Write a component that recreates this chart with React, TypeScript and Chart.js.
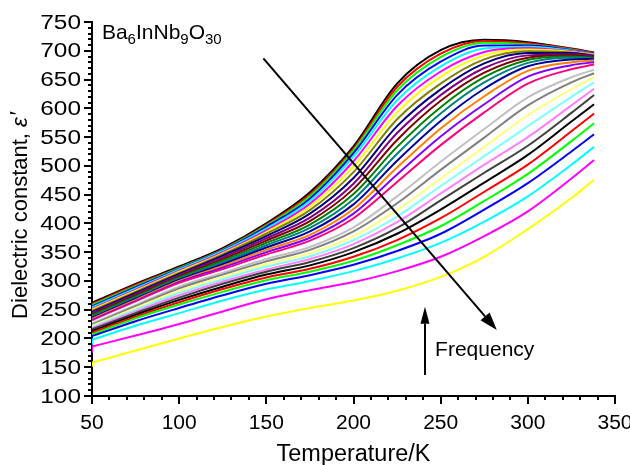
import React, { useEffect, useRef } from 'react';
import { Chart, registerables } from 'chart.js';
Chart.register(...registerables);

// Temperature (K) sample points. The first entry of every series is the value of the
// very first reading at 50 K (a short vertical start-up step), the rest follow the curve.
const temperatures = [50, 50, 75, 100, 125, 150, 175, 200, 225, 250, 275, 300, 325, 338];

// Dielectric constant for each measuring frequency (lowest frequency first)
const eps01 = [259, 262, 295, 325, 357, 400, 454, 534, 643, 701, 719, 715, 704, 697];
const eps02 = [257, 260, 293, 323, 355, 398, 450, 530, 637, 695, 717, 713, 703, 696];
const eps03 = [255, 258, 291, 322, 354, 396, 447, 527, 631, 689, 714, 711, 702, 695];
const eps04 = [253, 256, 289, 321, 353, 394, 443, 522, 623, 681, 709, 709, 701, 695];
const eps05 = [251, 254, 287, 320, 352, 391, 439, 516, 614, 673, 704, 707, 700, 694];
const eps06 = [249, 252, 285, 318, 350, 388, 434, 508, 604, 664, 698, 705, 699, 694];
const eps07 = [247, 250, 283, 316, 348, 385, 429, 499, 593, 655, 692, 702, 698, 693];
const eps08 = [245, 248, 281, 314, 346, 382, 423, 489, 581, 643, 685, 699, 697, 692];
const eps09 = [243, 246, 279, 312, 344, 378, 417, 479, 569, 633, 678, 696, 696, 691];
const eps10 = [241, 244, 277, 310, 341, 374, 410, 469, 557, 623, 670, 692, 694, 690];
const eps11 = [239, 242, 275, 308, 338, 370, 404, 460, 545, 613, 662, 688, 692, 689];
const eps12 = [237, 240, 273, 306, 335, 366, 398, 451, 533, 602, 654, 684, 690, 688];
const eps13 = [235, 238, 271, 304, 332, 362, 392, 442, 521, 591, 645, 679, 688, 687];
const eps14 = [233, 236, 269, 302, 329, 358, 386, 433, 509, 578, 634, 673, 685, 686];
const eps15 = [231, 234, 267, 300, 326, 354, 380, 425, 497, 565, 621, 665, 680, 683];
const eps16 = [229, 232, 265, 298, 323, 350, 375, 417, 485, 551, 607, 655, 675, 680];
const eps17 = [227, 230, 263, 296, 320, 346, 370, 409, 472, 536, 593, 643, 668, 676];
const eps18 = [225, 228, 261, 293, 317, 342, 364, 401, 459, 522, 579, 632, 662, 672];
const eps19 = [223, 226, 258, 290, 314, 338, 359, 393, 447, 507, 564, 619, 654, 667];
const eps20 = [221, 224, 256, 287, 311, 334, 354, 386, 435, 493, 549, 605, 645, 661];
const eps21 = [219, 222, 253, 283, 307, 329, 348, 378, 423, 478, 533, 588, 633, 654];
const eps22 = [217, 220, 250, 279, 303, 325, 343, 371, 412, 465, 517, 569, 620, 645];
const eps23 = [215, 218, 247, 275, 299, 320, 338, 364, 402, 452, 502, 550, 605, 634];
const eps24 = [212, 216, 244, 271, 295, 316, 333, 357, 392, 440, 488, 535, 592, 623];
const eps25 = [209, 213, 241, 267, 290, 311, 327, 350, 382, 424, 471, 519, 577, 607];
const eps26 = [206, 210, 238, 263, 286, 306, 321, 342, 371, 409, 455, 502, 560, 591];
const eps27 = [203, 207, 235, 259, 281, 301, 316, 335, 362, 395, 439, 486, 543, 574];
const eps28 = [198, 204, 230, 253, 275, 295, 310, 328, 352, 382, 424, 470, 525, 555];
const eps29 = [189, 198, 222, 244, 266, 285, 300, 317, 339, 366, 403, 447, 502, 533];
const eps30 = [175, 186, 205, 225, 247, 268, 284, 298, 317, 342, 378, 421, 478, 510];
const eps31 = [151, 158, 179, 200, 220, 238, 253, 266, 283, 307, 342, 390, 444, 476];

const allSeries = [
  eps01, eps02, eps03, eps04, eps05, eps06, eps07, eps08, eps09, eps10,
  eps11, eps12, eps13, eps14, eps15, eps16, eps17, eps18, eps19, eps20,
  eps21, eps22, eps23, eps24, eps25, eps26, eps27, eps28, eps29, eps30, eps31,
];

const curveColors = [
  '#000000', '#FF0000', '#00FF00', '#0000FF', '#00FFFF', '#FF00FF', '#FFFF00',
  '#808000', '#000080', '#800080', '#800000', '#008000', '#008080', '#0000A0',
  '#FF8000', '#8000FF', '#FF0080', '#FFFFFF', '#C0C0C0', '#808080', '#FFFF80',
  '#80FFFF', '#FF80FF', '#404040',
  '#000000', '#FF0000', '#00FF00', '#0000FF', '#00FFFF', '#FF00FF', '#FFFF00',
];

const xTickValues = [50, 100, 150, 200, 250, 300, 350];
const yTickValues = [100, 150, 200, 250, 300, 350, 400, 450, 500, 550, 600, 650, 700, 750];

const FONT = 'Arial, "Liberation Sans", Helvetica, sans-serif';

function stretchText(ctx: CanvasRenderingContext2D, text: string, x: number, y: number, sx: number, align: CanvasTextAlign) {
  ctx.save();
  ctx.translate(x, y);
  ctx.scale(sx, 1);
  ctx.textAlign = align;
  ctx.fillText(text, 0, 0);
  ctx.restore();
}

function arrow(ctx: CanvasRenderingContext2D, x1: number, y1: number, x2: number, y2: number, headLen: number, headW: number) {
  const ang = Math.atan2(y2 - y1, x2 - x1);
  const bx = x2 - headLen * Math.cos(ang);
  const by = y2 - headLen * Math.sin(ang);
  ctx.beginPath();
  ctx.moveTo(x1, y1);
  ctx.lineTo(bx, by);
  ctx.stroke();
  const px = -Math.sin(ang) * headW / 2;
  const py = Math.cos(ang) * headW / 2;
  ctx.beginPath();
  ctx.moveTo(x2, y2);
  ctx.lineTo(bx + px, by + py);
  ctx.lineTo(bx - px, by - py);
  ctx.closePath();
  ctx.fill();
}

const decorPlugin = {
  id: 'decor',
  afterDraw(chart: any) {
    const { ctx, chartArea } = chart;
    const xs = chart.scales.x;
    const ys = chart.scales.y;
    ctx.save();
    ctx.fillStyle = '#000';
    ctx.strokeStyle = '#000';
    ctx.lineWidth = 2;
    ctx.lineCap = 'butt';
    // y ticks (major every 50, minor every 10)
    for (let v = 100; v <= 750; v += 10) {
      const py = Math.round(ys.getPixelForValue(v));
      const len = v % 50 === 0 ? 8 : 4;
      ctx.beginPath();
      ctx.moveTo(chartArea.left - len, py);
      ctx.lineTo(chartArea.left, py);
      ctx.stroke();
    }
    // x ticks
    for (let v = 50; v <= 350; v += 10) {
      const px = Math.round(xs.getPixelForValue(v));
      const len = v % 50 === 0 ? 8 : 4;
      ctx.beginPath();
      ctx.moveTo(px, chartArea.bottom);
      ctx.lineTo(px, chartArea.bottom + len);
      ctx.stroke();
    }
    // tick labels
    ctx.font = `20px ${FONT}`;
    ctx.textBaseline = 'middle';
    yTickValues.forEach((v) => {
      stretchText(ctx, String(v), chartArea.left - 11, ys.getPixelForValue(v) + 1, 1.22, 'right');
    });
    xTickValues.forEach((v) => {
      stretchText(ctx, String(v), xs.getPixelForValue(v), chartArea.bottom + 27, 1.05, 'center');
    });
    // axis titles
    ctx.font = `23px ${FONT}`;
    stretchText(ctx, 'Temperature/K', (chartArea.left + chartArea.right) / 2, 455, 1.02, 'center');

    ctx.save();
    ctx.translate(21, 215);
    ctx.rotate(-Math.PI / 2);
    const partA = 'Dielectric constant, ';
    const partB = 'ε';
    const partC = '′';
    ctx.font = `22px ${FONT}`;
    const wA = ctx.measureText(partA).width;
    const wC = ctx.measureText(partC).width;
    ctx.font = `italic 22px ${FONT}`;
    const wB = ctx.measureText(partB).width;
    const total = wA + wB + wC + 2;
    let cx = -total / 2;
    ctx.textAlign = 'left';
    ctx.textBaseline = 'middle';
    ctx.font = `22px ${FONT}`;
    ctx.fillText(partA, cx, 0);
    cx += wA;
    ctx.font = `italic 22px ${FONT}`;
    ctx.fillText(partB, cx, 0);
    cx += wB + 2;
    ctx.font = `22px ${FONT}`;
    ctx.fillText(partC, cx, -2);
    ctx.restore();

    // Compound label with subscripts
    let lx = xs.getPixelForValue(55.7);
    const ly = ys.getPixelForValue(720.4);
    ctx.textAlign = 'left';
    ctx.textBaseline = 'alphabetic';
    const parts: [string, boolean][] = [['Ba', false], ['6', true], ['InNb', false], ['9', true], ['O', false], ['30', true]];
    parts.forEach(([t, sub]) => {
      ctx.font = sub ? `15px ${FONT}` : `21px ${FONT}`;
      ctx.fillText(t, lx, sub ? ly + 5 : ly);
      lx += ctx.measureText(t).width;
    });

    // Frequency arrows
    ctx.lineWidth = 2;
    arrow(ctx, xs.getPixelForValue(148.3), ys.getPixelForValue(686.9), xs.getPixelForValue(282.2), ys.getPixelForValue(214.7), 18, 12);
    arrow(ctx, xs.getPixelForValue(241.0), ys.getPixelForValue(136.5), xs.getPixelForValue(241.0), ys.getPixelForValue(255.2), 17, 9);
    ctx.font = `21px ${FONT}`;
    ctx.textBaseline = 'middle';
    ctx.textAlign = 'left';
    ctx.fillText('Frequency', xs.getPixelForValue(246.8), ys.getPixelForValue(180));
    ctx.restore();
  },
};

export default function App() {
  const canvasRef = useRef<HTMLCanvasElement | null>(null);

  useEffect(() => {
    const canvas = canvasRef.current;
    if (!canvas) return;
    const n = allSeries.length;
    // main smooth curves (from the second entry onward)
    const curves = allSeries.map((series, i) => ({
      label: `f${i + 1}`,
      data: temperatures.slice(1).map((t, j) => ({ x: t, y: series[j + 1] })),
      borderColor: curveColors[i],
      backgroundColor: curveColors[i],
      borderWidth: 2,
      pointRadius: 0,
      fill: false,
      cubicInterpolationMode: 'monotone' as const,
      order: n - i,
    }));
    // short start-up step of each curve at 50 K
    const steps = allSeries.map((series, i) => ({
      label: `s${i + 1}`,
      data: temperatures.slice(0, 2).map((t, j) => ({ x: t, y: series[j] })),
      borderColor: curveColors[i],
      backgroundColor: curveColors[i],
      borderWidth: 2,
      pointRadius: 0,
      fill: false,
      tension: 0,
      order: n - i,
    }));
    const chart = new Chart(canvas, {
      type: 'line',
      data: { datasets: [...curves, ...steps] },
      options: {
        responsive: false,
        animation: false,
        devicePixelRatio: 1,
        layout: { padding: { left: 0, top: 22, right: 15, bottom: 0 } },
        plugins: { legend: { display: false }, tooltip: { enabled: false } },
        scales: {
          x: {
            type: 'linear',
            min: 50,
            max: 350,
            grid: { display: false },
            border: { display: true, color: '#000', width: 2 },
            ticks: { display: false },
            afterFit: (scale: any) => { scale.height = 69; scale.paddingLeft = 0; scale.paddingRight = 0; },
          },
          y: {
            type: 'linear',
            min: 100,
            max: 750,
            grid: { display: false },
            border: { display: true, color: '#000', width: 2 },
            ticks: { display: false },
            afterFit: (scale: any) => { scale.width = 92; scale.paddingTop = 0; scale.paddingBottom = 0; },
          },
        },
      },
      plugins: [decorPlugin],
    });
    return () => chart.destroy();
  }, []);

  return (
    <div style={{ position: 'absolute', left: 0, top: 0, width: 630, height: 465, background: '#fff' }}>
      <canvas ref={canvasRef} width={630} height={465} style={{ display: 'block' }} />
    </div>
  );
}
